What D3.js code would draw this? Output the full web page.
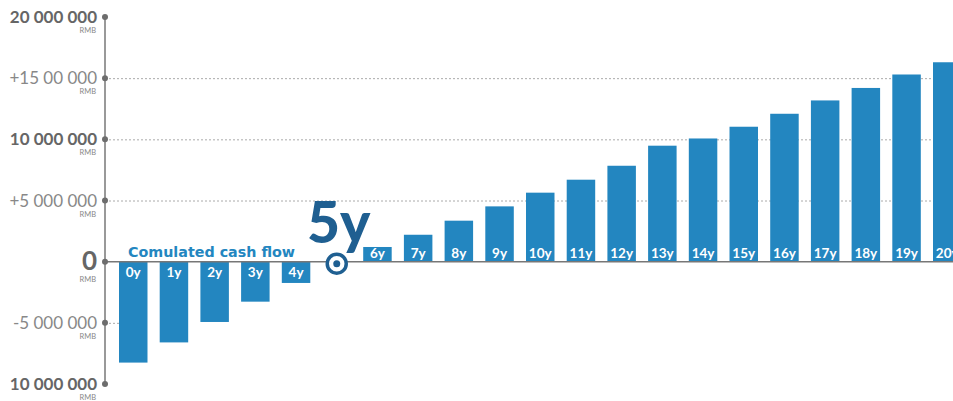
<!DOCTYPE html>
<html>
<head>
<meta charset="utf-8">
<script src="https://cdn.jsdelivr.net/npm/d3@7"></script>
<style>
  body { margin: 0; background: #fff; }
  svg { display: block; font-family: "Lato", "Open Sans", sans-serif; }
</style>
</head>
<body>
<svg id="chart" width="953" height="401"></svg>
<script>
// cumulated cash flow per year (RMB)
var years = ["0y","1y","2y","3y","4y","5y","6y","7y","8y","9y","10y","11y","12y","13y","14y","15y","16y","17y","18y","19y","20y"];
var cashFlow = [-8250000,-6600000,-4930000,-3270000,-1740000,0,1200000,2200000,3350000,4520000,5640000,6700000,7840000,9480000,10070000,11030000,12090000,13180000,14200000,15300000,16300000];
var tickValues = [20000000,15000000,10000000,5000000,0,-5000000,-10000000];
var tickLabels = ["20 000 000","+15 00 000","10 000 000","+5 000 000","0","-5 000 000","10 000 000"];
var tickBold = [true,false,true,false,true,false,true];
var gridTicks = [15000000,10000000,5000000];
var breakEven = "5y";

var svg = d3.select("#chart");
var axisX = 105;

var x = d3.scaleBand()
  .domain(years)
  .range([119, 961.5])
  .paddingInner(0.3)
  .paddingOuter(0);

var y = d3.scaleLinear()
  .domain([-10000000, 20000000])
  .range([384, 17]);

// grid lines (full width, hidden behind bars)
svg.append("g")
  .selectAll("line")
  .data(gridTicks)
  .enter()
  .append("line")
  .attr("x1", axisX)
  .attr("x2", 953)
  .attr("y1", function (d) { return y(d) + 0.5; })
  .attr("y2", function (d) { return y(d) + 0.5; })
  .attr("stroke", "#aaa")
  .attr("stroke-width", 1)
  .attr("stroke-dasharray", "2,2");

// the -5M line only runs up to the first bar
svg.append("line")
  .attr("x1", axisX)
  .attr("x2", x(years[0]))
  .attr("y1", y(-5000000) + 0.5)
  .attr("y2", y(-5000000) + 0.5)
  .attr("stroke", "#aaa")
  .attr("stroke-dasharray", "2,2");

// bars
var data = years.map(function (d, i) { return { year: d, value: cashFlow[i] }; })
  .filter(function (d) { return d.value !== 0; });

svg.append("g")
  .selectAll("rect")
  .data(data)
  .enter()
  .append("rect")
  .attr("x", function (d) { return x(d.year); })
  .attr("width", x.bandwidth())
  .attr("y", function (d) { return y(Math.max(0, d.value)); })
  .attr("height", function (d) { return Math.abs(y(d.value) - y(0)); })
  .attr("fill", "#2386c0");

// bar labels
svg.append("g")
  .selectAll("text")
  .data(data)
  .enter()
  .append("text")
  .attr("x", function (d) { return x(d.year) + x.bandwidth() / 2; })
  .attr("y", function (d) { return d.value > 0 ? y(0) - 4 : y(0) + 15; })
  .attr("text-anchor", "middle")
  .attr("fill", "#fff")
  .attr("font-weight", "bold")
  .attr("font-size", 13.5)
  .text(function (d) { return d.year; });

// zero line
svg.append("line")
  .attr("x1", axisX)
  .attr("x2", 953)
  .attr("y1", y(0))
  .attr("y2", y(0))
  .attr("stroke", "#777")
  .attr("stroke-width", 1.5);

// vertical axis
svg.append("line")
  .attr("x1", axisX)
  .attr("x2", axisX)
  .attr("y1", y(20000000))
  .attr("y2", y(-10000000))
  .attr("stroke", "#777")
  .attr("stroke-width", 1.5);

var ticks = svg.append("g")
  .selectAll("g")
  .data(tickValues)
  .enter()
  .append("g")
  .attr("transform", function (d) { return "translate(0," + y(d) + ")"; });

ticks.append("circle")
  .attr("cx", axisX)
  .attr("r", 3)
  .attr("fill", "#6d6d6d");

ticks.append("text")
  .attr("x", 97)
  .attr("y", function (d) { return d === 0 ? 8 : 6; })
  .attr("text-anchor", "end")
  .attr("font-size", function (d) { return d === 0 ? 26 : 17; })
  .attr("font-weight", function (d, i) { return tickBold[i] ? "bold" : "normal"; })
  .attr("fill", function (d, i) { return tickBold[i] ? "#666" : "#888"; })
  .text(function (d, i) { return tickLabels[i]; });

ticks.append("text")
  .attr("x", 96)
  .attr("y", function (d) { return d === 0 ? 20 : 16; })
  .attr("text-anchor", "end")
  .attr("font-size", 7.5)
  .attr("fill", "#888")
  .text("RMB");

// title
svg.append("text")
  .attr("x", 128)
  .attr("y", 257)
  .attr("font-family", "DejaVu Sans")
  .attr("font-size", 14.5)
  .attr("font-weight", "bold")
  .attr("fill", "#2386c0")
  .attr("textLength", 167)
  .attr("lengthAdjust", "spacingAndGlyphs")
  .text("Comulated cash flow");

// break-even marker
var bx = x(breakEven) + x.bandwidth() / 2;
svg.append("text")
  .attr("x", bx + 2)
  .attr("y", 243)
  .attr("text-anchor", "middle")
  .attr("font-size", 57)
  .attr("font-weight", 900)
  .attr("fill", "#1f5f91")
  .text(breakEven);

svg.append("circle")
  .attr("cx", bx)
  .attr("cy", y(0) + 2)
  .attr("r", 9.5)
  .attr("fill", "#fff")
  .attr("stroke", "#1f5f91")
  .attr("stroke-width", 3.5);

svg.append("circle")
  .attr("cx", bx)
  .attr("cy", y(0) + 2)
  .attr("r", 3.5)
  .attr("fill", "#1f5f91");
</script>
</body>
</html>
